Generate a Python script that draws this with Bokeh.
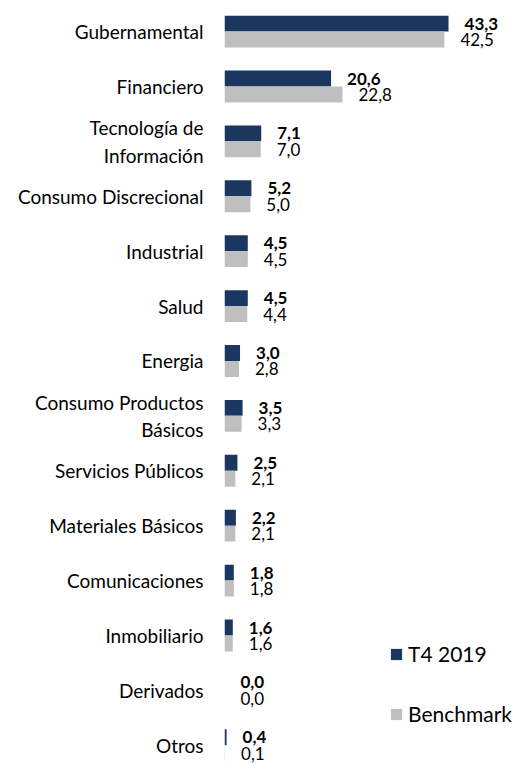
from bokeh.plotting import figure
from bokeh.models import ColumnDataSource, Range1d, FixedTicker, Legend, LegendItem
from bokeh.core.properties import value
from bokeh.embed import file_html
from bokeh.resources import INLINE

categories = ["Gubernamental", "Financiero", "Tecnología de\nInformación", "Consumo Discrecional",
              "Industrial", "Salud", "Energia", "Consumo Productos\nBásicos", "Servicios Públicos",
              "Materiales Básicos", "Comunicaciones", "Inmobiliario", "Derivados", "Otros"]
t4_2019 = [43.3, 20.6, 7.1, 5.2, 4.5, 4.5, 3.0, 3.5, 2.5, 2.2, 1.8, 1.6, 0.0, 0.4]
benchmark = [42.5, 22.8, 7.0, 5.0, 4.5, 4.4, 2.8, 3.3, 2.1, 2.1, 1.8, 1.6, 0.0, 0.1]

FONT = "Lato"
DARK = "#1B365F"
GRAY = "#BFBFBF"
BH = 0.29

idx = list(range(len(categories)))
src = ColumnDataSource(dict(
    y=idx,
    y1=[i - BH / 2 for i in idx],
    y2=[i + BH / 2 for i in idx],
    t4=t4_2019,
    bm=benchmark,
    t4_lbl=[f"{v:.1f}".replace(".", ",") for v in t4_2019],
    bm_lbl=[f"{v:.1f}".replace(".", ",") for v in benchmark],
))

p = figure(width=522, height=764, output_backend="svg", toolbar_location=None,
           x_range=Range1d(0, 57.6), y_range=Range1d(13.35, -0.42),
           min_border_left=224, min_border_right=0, min_border_top=8, min_border_bottom=0)

r1 = p.hbar(y="y1", right="t4", left=0, height=BH, source=src, fill_color=DARK, line_color=None)
r2 = p.hbar(y="y2", right="bm", left=0, height=BH, source=src, fill_color=GRAY, line_color=None)

p.text(x="t4", y="y1", text="t4_lbl", source=src, x_offset=16, text_align="left",
       text_baseline="middle", text_font=value(FONT), text_font_size="17px",
       text_font_style="bold", text_color="black")
p.text(x="bm", y="y2", text="bm_lbl", source=src, x_offset=16, text_align="left",
       text_baseline="middle", text_font=value(FONT), text_font_size="17px",
       text_color="black")

p.xaxis.visible = False
p.yaxis.ticker = FixedTicker(ticks=idx)
p.yaxis.major_label_overrides = {i: c for i, c in zip(idx, categories)}
p.yaxis.axis_line_color = None
p.yaxis.major_tick_line_color = None
p.yaxis.major_tick_out = 0
p.yaxis.major_tick_in = 0
p.yaxis.minor_tick_line_color = None
p.yaxis.major_label_standoff = 21
p.yaxis.major_label_text_font = FONT
p.yaxis.major_label_text_font_size = "19px"
p.yaxis.major_label_text_color = "black"
p.grid.visible = False
p.outline_line_color = None

legend = Legend(items=[LegendItem(label="T4 2019", renderers=[r1]),
                       LegendItem(label="Benchmark", renderers=[r2])],
                location=(165, 38), orientation="vertical",
                label_text_font=FONT, label_text_font_size="21px", label_text_color="black",
                glyph_width=14, glyph_height=14, spacing=35, padding=0, margin=0,
                label_standoff=5, border_line_color=None, background_fill_alpha=0)
p.add_layout(legend)

open("out.html", "w").write(file_html(p, INLINE))
